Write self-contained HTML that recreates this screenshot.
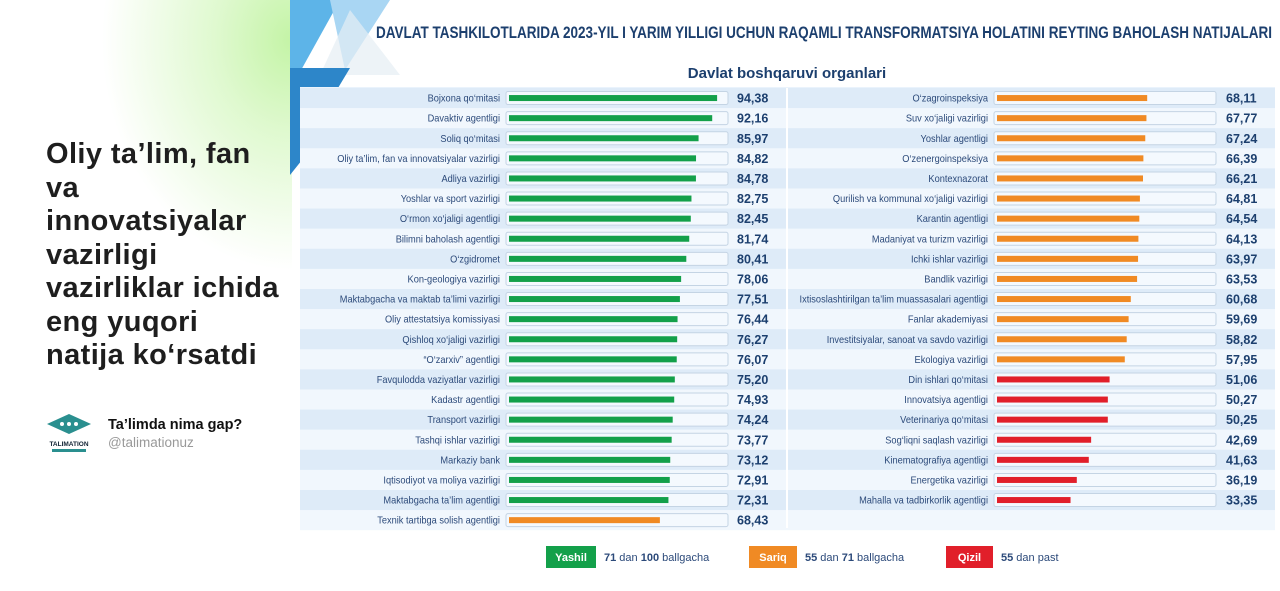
<!DOCTYPE html>
<html><head><meta charset="utf-8">
<style>
body{margin:0;width:1280px;height:591px;overflow:hidden;background:#fff;font-family:"Liberation Sans",sans-serif;position:relative}
#left{position:absolute;left:0;top:0;width:292px;height:591px;background:#fff}
#glow{position:absolute;left:0;top:0;width:292px;height:591px;background:radial-gradient(ellipse 190px 230px at 292px 40px,#c4f4a6 0%,#dff9cf 40%,rgba(255,255,255,0) 100%)}
#headline{position:absolute;left:46px;top:138px;font-size:29px;font-weight:bold;line-height:33.5px;color:#1e1e1e;letter-spacing:0.4px;white-space:nowrap}
#chart{position:absolute;left:290px;top:0}
</style></head><body>
<div id="left">
<div id="glow"></div>
<div id="headline">Oliy ta’lim, fan<br>va<br>innovatsiyalar<br>vazirligi<br>vazirliklar ichida<br>eng yuqori<br>natija ko‘rsatdi</div>
<svg style="position:absolute;left:44px;top:412px" width="50" height="42">
<polygon points="3,12 25,2 47,12 25,22" fill="#2a8f8f"/><circle cx="18" cy="12" r="2" fill="#fff"/><circle cx="25" cy="12" r="2" fill="#fff"/><circle cx="32" cy="12" r="2" fill="#fff"/>
<text x="25" y="34" font-size="6.5" font-weight="bold" text-anchor="middle" fill="#123">TALIMATION</text><rect x="8" y="37" width="34" height="3" fill="#2a8f8f"/></svg>
<div style="position:absolute;left:108px;top:417px;font-size:14.5px;font-weight:bold;color:#111">Ta’limda nima gap?</div>
<div style="position:absolute;left:108px;top:435px;font-size:13.5px;color:#999">@talimationuz</div>
</div>
<svg id="chart" width="990" height="591"></svg>
<script>
const leftNames=["Bojxona qo‘mitasi","Davaktiv agentligi","Soliq qo‘mitasi","Oliy ta’lim, fan va innovatsiyalar vazirligi","Adliya vazirligi","Yoshlar va sport vazirligi","O‘rmon xo‘jaligi agentligi","Bilimni baholash agentligi","O‘zgidromet","Kon-geologiya vazirligi","Maktabgacha va maktab ta’limi vazirligi","Oliy attestatsiya komissiyasi","Qishloq xo‘jaligi vazirligi","“O‘zarxiv” agentligi","Favqulodda vaziyatlar vazirligi","Kadastr agentligi","Transport vazirligi","Tashqi ishlar vazirligi","Markaziy bank","Iqtisodiyot va moliya vazirligi","Maktabgacha ta’lim agentligi","Texnik tartibga solish agentligi"];
const leftValues=[94.38,92.16,85.97,84.82,84.78,82.75,82.45,81.74,80.41,78.06,77.51,76.44,76.27,76.07,75.20,74.93,74.24,73.77,73.12,72.91,72.31,68.43];
const rightNames=["O‘zagroinspeksiya","Suv xo‘jaligi vazirligi","Yoshlar agentligi","O‘zenergoinspeksiya","Kontexnazorat","Qurilish va kommunal xo‘jaligi vazirligi","Karantin agentligi","Madaniyat va turizm vazirligi","Ichki ishlar vazirligi","Bandlik vazirligi","Ixtisoslashtirilgan ta’lim muassasalari agentligi","Fanlar akademiyasi","Investitsiyalar, sanoat va savdo vazirligi","Ekologiya vazirligi","Din ishlari qo‘mitasi","Innovatsiya agentligi","Veterinariya qo‘mitasi","Sog‘liqni saqlash vazirligi","Kinematografiya agentligi","Energetika vazirligi","Mahalla va tadbirkorlik agentligi"];
const rightValues=[68.11,67.77,67.24,66.39,66.21,64.81,64.54,64.13,63.97,63.53,60.68,59.69,58.82,57.95,51.06,50.27,50.25,42.69,41.63,36.19,33.35];

const svg=document.getElementById('chart');
const NS='http://www.w3.org/2000/svg';
function mk(tag,attrs,parent){const e=document.createElementNS(NS,tag);for(const k in attrs)e.setAttribute(k,attrs[k]);(parent||svg).appendChild(e);return e;}
function txt(s,attrs){const e=mk('text',attrs);e.textContent=s;return e;}
const rowTop=88, rowH=20.1;
const scale=v=>v*2.205;
const color=v=>v>=71?'#13a04a':(v>=55?'#f08a24':'#e11f2a');

mk('polygon',{points:"0,0 50,0 0,90",fill:'#5db4e8'});
mk('polygon',{points:"40,0 100,0 55,70",fill:'#a9d6f3'});
mk('polygon',{points:"60,10 110,75 30,75",fill:'#e6eef4',opacity:0.7});
mk('polygon',{points:"0,68 60,68 48,88 12,88 12,160 0,175",fill:'#2d86c9'});
const title=txt('DAVLAT TASHKILOTLARIDA 2023-YIL I YARIM YILLIGI UCHUN RAQAMLI TRANSFORMATSIYA HOLATINI REYTING BAHOLASH NATIJALARI',{x:86,y:38,'font-size':17,'font-weight':'bold',fill:'#1c3f6e',textLength:896,lengthAdjust:'spacingAndGlyphs'});

txt('Davlat boshqaruvi organlari',{x:497,y:78,'font-size':15,'font-weight':'bold',fill:'#1c3f6e','text-anchor':'middle'});
mk('rect',{x:10,y:87,width:975,height:443,fill:'#eaf3fc'});
for(let i=0;i<22;i++){mk('rect',{x:10,y:rowTop+i*rowH,width:975,height:rowH,fill:i%2?'#f1f7fd':'#deebf8'});}
mk('line',{x1:497,y1:88,x2:497,y2:528,stroke:'#fff','stroke-width':2});

function column(names,values,labelX,boxX,valX,prefix){
  names.forEach((n,i)=>{
    const cy=rowTop+i*rowH+rowH/2;
    const l=txt(n,{x:labelX,y:cy+3.5,'font-size':10.5,fill:'#2c4a7a','text-anchor':'end'});
    
    
    const w=l.getComputedTextLength();
    l.setAttribute('textLength',w*0.88);
    l.setAttribute('lengthAdjust','spacingAndGlyphs');
    const b=mk('rect',{x:boxX,y:cy-6.5,width:222,height:13,rx:2,fill:'#f4f9fe',stroke:'#c4d4e4','stroke-width':1});
    
    
    const f=mk('rect',{x:boxX+3,y:cy-3,width:scale(values[i]),height:6,fill:color(values[i])});
    
    
    const v=txt(values[i].toFixed(2).replace('.',','),{x:valX,y:cy+4.5,'font-size':12.5,'font-weight':'bold',fill:'#1c3f6e'});
    
    
  });
}
column(leftNames,leftValues,210,216,447,'left');
column(rightNames,rightValues,698,704,936,'right');

const leg=[['Yashil','#13a04a',256,50,314],['Sariq','#f08a24',459,48,515],['Qizil','#e11f2a',656,47,711]];
leg.forEach(l=>{
  const r=mk('rect',{x:l[2],y:546,width:l[3],height:22,fill:l[1]});
  
  
  txt(l[0],{x:l[2]+l[3]/2,y:561,'font-size':11,'font-weight':'bold',fill:'#fff','text-anchor':'middle'});
  const t=mk('text',{x:l[4],y:561,'font-size':11,fill:'#2c4a7a'});
  
  
  t.innerHTML=l[0]==='Yashil'?'<tspan font-weight="bold">71</tspan> dan <tspan font-weight="bold">100</tspan> ballgacha':l[0]==='Sariq'?'<tspan font-weight="bold">55</tspan> dan <tspan font-weight="bold">71</tspan> ballgacha':'<tspan font-weight="bold">55</tspan> dan past';
});
</script>
</body></html>
